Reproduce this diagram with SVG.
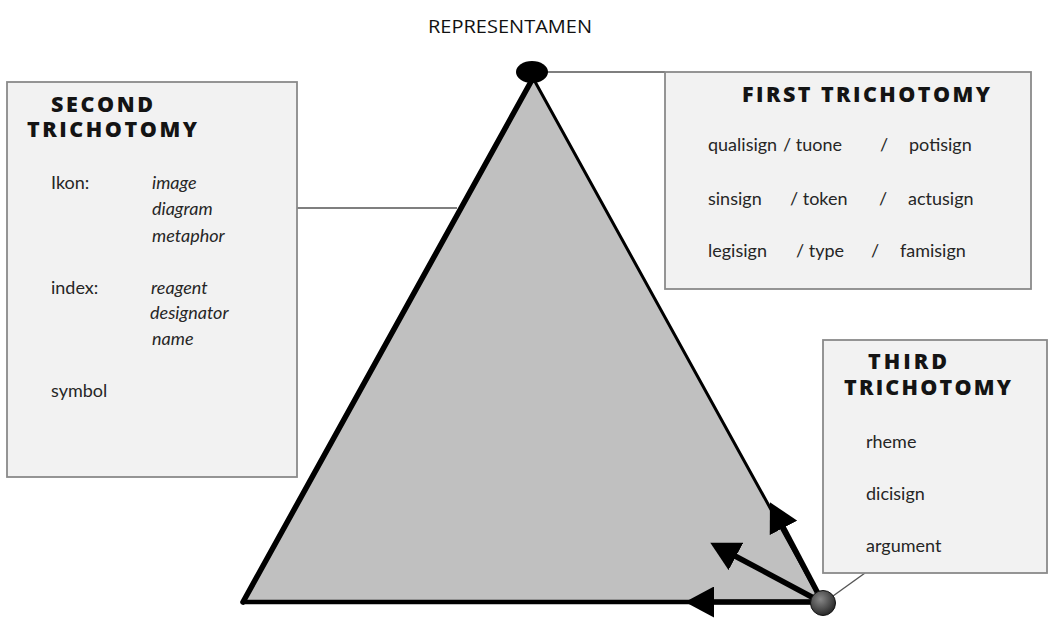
<svg xmlns="http://www.w3.org/2000/svg" width="1049" height="619" viewBox="0 0 1049 619">
<style>
.box{fill:#f2f2f2;stroke:#8a8a8a;stroke-width:1.8}
.hd{font-family:"Open Sans",Lato,"DejaVu Sans",sans-serif;font-weight:800;font-size:21.5px;fill:#141414}
.tx{font-family:Lato,"Open Sans","DejaVu Sans",sans-serif;font-size:18px;fill:#262626}
.it{font-style:italic}
.conn{stroke:#555;stroke-width:1.4;fill:none}
.edge{stroke:#000;fill:none;stroke-linecap:round}
.arr{stroke:#000;stroke-width:5.5;fill:none}
</style>
<defs>
<marker id="ah" markerUnits="userSpaceOnUse" markerWidth="29" markerHeight="31" viewBox="0 0 29 31" refX="1" refY="15.5" orient="auto">
<path d="M0,0 L29,15.5 L0,31 z" fill="#000"/>
</marker>
<radialGradient id="dot" cx="0.4" cy="0.35" r="0.7">
<stop offset="0" stop-color="#888"/>
<stop offset="1" stop-color="#222"/>
</radialGradient>
</defs>
<rect width="1049" height="619" fill="#fff"/>

<g id="representamen-label">
<text x="428" y="33" font-family="'Open Sans','Liberation Sans',sans-serif" font-size="18" fill="#111" textLength="164" lengthAdjust="spacingAndGlyphs">REPRESENTAMEN</text>
</g>

<g id="connectors">
<line class="conn" x1="297" y1="208" x2="457" y2="208"/>
<line class="conn" x1="546" y1="72" x2="665" y2="72" stroke="#777"/>
<line class="conn" x1="865" y1="573" x2="833" y2="596"/>
</g>

<g id="triangle">
<polygon points="533,78 243,602 822,602" fill="#c0c0c0"/>
<line class="edge" x1="533" y1="78" x2="243" y2="602" stroke-width="5.5"/>
<line class="edge" x1="243" y1="602" x2="822" y2="602" stroke-width="4.5"/>
<line class="edge" x1="533" y1="78" x2="822" y2="602" stroke-width="3"/>
<ellipse cx="532" cy="72" rx="16" ry="11" fill="#000"/>
</g>

<g id="arrows">
<line class="arr" x1="823" y1="603" x2="783" y2="527" marker-end="url(#ah)"/>
<line class="arr" x1="823" y1="603" x2="735" y2="556" marker-end="url(#ah)"/>
<line class="arr" x1="823" y1="602" x2="713" y2="602" marker-end="url(#ah)"/>
<circle id="interpretant-dot" cx="823" cy="603" r="12.5" fill="url(#dot)" stroke="#111" stroke-width="1"/>
</g>

<g id="second-trichotomy">
<rect class="box" x="7" y="82" width="290" height="395"/>
<text class="hd" x="51" y="112" textLength="102" lengthAdjust="spacing">SECOND</text>
<text class="hd" x="27" y="137" textLength="170" lengthAdjust="spacing">TRICHOTOMY</text>
<text class="tx" x="51" y="189">Ikon:</text>
<text class="tx it" x="152" y="189">image</text>
<text class="tx it" x="152" y="215">diagram</text>
<text class="tx it" x="152" y="242">metaphor</text>
<text class="tx" x="51" y="294">index:</text>
<text class="tx it" x="151" y="294">reagent</text>
<text class="tx it" x="150" y="319">designator</text>
<text class="tx it" x="152" y="345">name</text>
<text class="tx" x="51" y="397">symbol</text>
</g>

<g id="first-trichotomy">
<rect class="box" x="665" y="72" width="366" height="217"/>
<text class="hd" x="742" y="102" textLength="248" lengthAdjust="spacing">FIRST TRICHOTOMY</text>
<text class="tx" y="151"><tspan x="708">qualisign</tspan><tspan x="783">/ tuone</tspan><tspan x="880">/</tspan><tspan x="909">potisign</tspan></text>
<text class="tx" y="205"><tspan x="708">sinsign</tspan><tspan x="790">/ token</tspan><tspan x="879">/</tspan><tspan x="908">actusign</tspan></text>
<text class="tx" y="257"><tspan x="708">legisign</tspan><tspan x="796">/ type</tspan><tspan x="871">/</tspan><tspan x="900">famisign</tspan></text>
</g>

<g id="third-trichotomy">
<rect class="box" x="823" y="340" width="224" height="233"/>
<text class="hd" x="868" y="369" textLength="79" lengthAdjust="spacing">THIRD</text>
<text class="hd" x="844" y="395" textLength="167" lengthAdjust="spacing">TRICHOTOMY</text>
<text class="tx" x="866" y="448">rheme</text>
<text class="tx" x="866" y="500">dicisign</text>
<text class="tx" x="866" y="552">argument</text>
</g>
</svg>
